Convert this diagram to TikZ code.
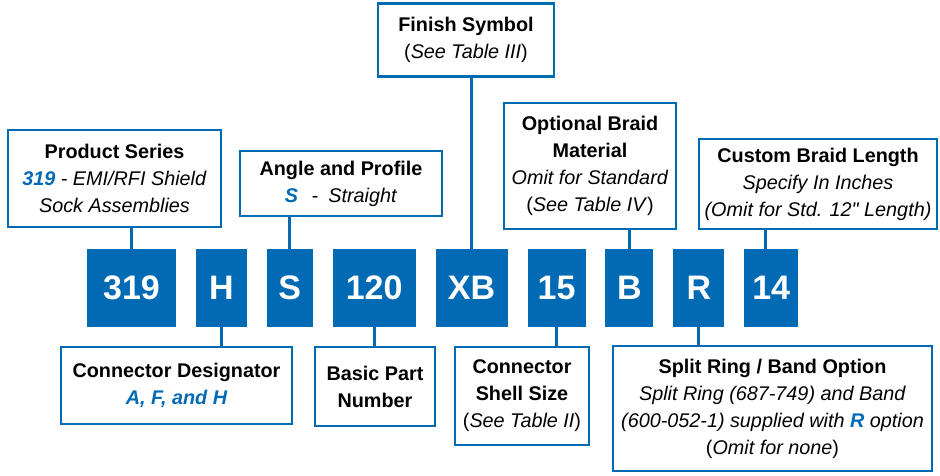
\documentclass[tikz,border=0pt]{standalone}
\usepackage{fontspec}
\setmainfont{Liberation Sans}[Ligatures=TeXOff]
\usepackage{xcolor}
\usetikzlibrary{positioning}
\definecolor{partblue}{RGB}{0,106,181}
\newcommand{\partpick}[1]{\textcolor{partblue}{\bfseries\itshape #1}}

\begin{document}
\begin{tikzpicture}[
        x=1pt, y=-1pt,
        node distance=19.5pt,
        code/.style={rectangle, fill=partblue, text=white, font=\fontsize{34}{34}\selectfont\bfseries, minimum height=78pt, inner sep=0pt},
        infobox/.style={rectangle, draw=partblue, line width=2.5pt, fill=white, align=center, font=\fontsize{19.8}{27}\selectfont, inner sep=0pt},
        link/.style={draw=partblue, line width=3pt}
    ]
    \useasboundingbox (0,0) rectangle (940,475);

    % part number codes
    \node (c319) [code, minimum width=89pt] at (131.5,288) {319};
    \node (cH) [code, minimum width=51pt, right=of c319] {H};
    \node (cS) [code, minimum width=46pt, right=of cH] {S};
    \node (c120) [code, minimum width=83pt, right=of cS] {120};
    \node (cXB) [code, minimum width=72pt, right=of c120] {XB};
    \node (c15) [code, minimum width=58pt, right=of cXB] {15};
    \node (cB) [code, minimum width=48pt, right=of c15] {B};
    \node (cR) [code, minimum width=51pt, right=of cB] {R};
    \node (c14) [code, minimum width=54pt, right=of cR] {14};

    % upper descriptions
    \node (series) [infobox, minimum width=213pt, minimum height=97pt] at (114.5,178.5)
        {\textbf{Product Series}\\ \partpick{319} \textit{- EMI/RFI Shield}\\ \textit{Sock Assemblies}};
    \node (angle) [infobox, minimum width=202pt, minimum height=65pt] at (341,183.5)
        {\textbf{Angle and Profile}\\ \partpick{S}\hspace{0.7em}-\hspace{0.5em}\textit{Straight}};
    \node (finish) [infobox, minimum width=176pt, minimum height=73pt] at (466,40)
        {\textbf{Finish Symbol}\\ (\textit{See Table III})};
    \node (braid) [infobox, minimum width=172pt, minimum height=126pt] at (590,166)
        {\textbf{Optional Braid}\\ \textbf{Material}\\ \textit{Omit for Standard}\\ (\textit{See Table IV})};
    \node (length) [infobox, minimum width=238pt, minimum height=90pt] at (818,184)
        {\textbf{Custom Braid Length}\\ \textit{Specify In Inches}\\ \textit{(Omit for Std. 12" Length)}};

    % lower descriptions
    \node (designator) [infobox, minimum width=231pt, minimum height=77pt] at (176.5,385.5)
        {\textbf{Connector Designator}\\ \partpick{A, F, and H}};
    \node (basic) [infobox, minimum width=120pt, minimum height=79pt] at (375,386.5)
        {\textbf{Basic Part}\\ \textbf{Number}};
    \node (shell) [infobox, minimum width=134pt, minimum height=98pt] at (522,396)
        {\textbf{Connector}\\ \textbf{Shell Size}\\ (\textit{See Table II})};
    \node (ring) [infobox, minimum width=319pt, minimum height=125pt] at (772.5,408.5)
        {\textbf{Split Ring / Band Option}\\ \textit{Split Ring (687-749) and Band}\\ \textit{(600-052-1) supplied with} \partpick{R} \textit{option}\\ (\textit{Omit for none})};

    \draw[link] (series.south -| c319.north) -- (c319.north);
    \draw[link] (angle.south -| cS.north) -- (cS.north);
    \draw[link] (finish.south -| cXB.north) -- (cXB.north);
    \draw[link] (braid.south -| cB.north) -- (cB.north);
    \draw[link] (length.south -| c14.north) ++(-6,0) -- ([xshift=-6pt]c14.north);
    \draw[link] (cH.south) -- (cH.south |- designator.north);
    \draw[link] (c120.south) -- (c120.south |- basic.north);
    \draw[link] (c15.south) -- (c15.south |- shell.north);
    \draw[link] (cR.south) -- (cR.south |- ring.north);
\end{tikzpicture}
\end{document}
